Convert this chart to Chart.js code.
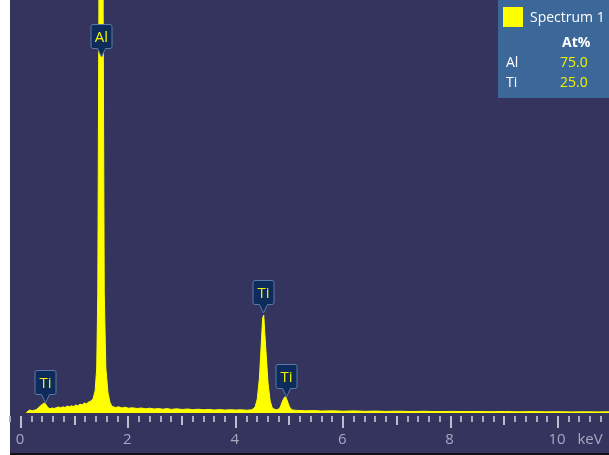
<!DOCTYPE html>
<html>
<head>
<meta charset="utf-8">
<script src="https://cdn.jsdelivr.net/npm/chart.js@4"></script>
<style>
  html, body { margin: 0; padding: 0; background: #ffffff; }
  canvas { display: block; }
</style>
</head>
<body>
<canvas id="myChart" width="609" height="455"></canvas>
<script>
// spectrum (energy in keV, counts)
const energies = [
  0.10, 0.13, 0.17, 0.21, 0.25, 0.29, 0.33, 0.37, 0.41, 0.44, 0.47, 0.50, 0.54, 0.58, 0.62, 0.66,
  0.70, 0.74, 0.78, 0.82, 0.86, 0.90, 0.94, 0.98, 1.02, 1.06, 1.10, 1.14, 1.18, 1.22, 1.26, 1.30,
  1.34, 1.38, 1.41, 1.43, 1.45, 1.46, 1.48, 1.50, 1.52, 1.53, 1.55, 1.58, 1.62, 1.66, 1.70, 1.76,
  1.82, 1.88, 1.94, 2.00, 2.08, 2.16, 2.24, 2.32, 2.40, 2.48, 2.56, 2.64, 2.72, 2.80, 2.90, 3.00,
  3.10, 3.20, 3.30, 3.40, 3.50, 3.60, 3.70, 3.80, 3.90, 4.00, 4.10, 4.20, 4.30, 4.36, 4.40, 4.44,
  4.47, 4.50, 4.52, 4.54, 4.57, 4.60, 4.64, 4.68, 4.72, 4.76, 4.80, 4.83, 4.87, 4.91, 4.93, 4.96,
  5.00, 5.05, 5.15, 5.30, 5.45, 5.60, 5.80, 6.00, 6.20, 6.40, 6.60, 6.80, 7.00, 7.25, 7.50, 7.75,
  8.00, 8.25, 8.50, 8.75, 9.00, 9.25, 9.50, 9.75, 10.00, 10.25, 10.50, 10.75, 10.95
];
const counts = [
  0, 20, 30, 22, 28, 35, 55, 75, 92, 100, 80, 55, 42, 50, 45, 55,
  60, 52, 62, 55, 70, 62, 72, 65, 80, 72, 88, 82, 100, 92, 110, 120,
  140, 220, 450, 1200, 4000, 12000, 30000, 30000, 12000, 4000, 1200, 450, 200, 100, 65, 55,
  62, 50, 58, 48, 52, 45, 50, 42, 48, 40, 45, 38, 44, 36, 42, 35,
  40, 33, 38, 32, 36, 30, 34, 29, 33, 30, 32, 28, 32, 60, 140, 350,
  650, 950, 980, 800, 550, 300, 120, 50, 38, 32, 40, 60, 120, 160, 160, 120,
  60, 30, 26, 22, 25, 20, 22, 18, 21, 17, 19, 16, 18, 15, 17, 14,
  16, 14, 15, 13, 15, 12, 14, 12, 13, 11, 12, 11, 12
];

// peak markers
const markerLabels = ["Ti", "Al", "Ti", "Ti"];
const markerEnergies = [0.45, 1.49, 4.51, 4.93];
const markerCounts = [100, 3560, 1000, 160];

// axis
const tickLabels = [0, 2, 4, 6, 8, 10];
const axisUnit = "keV";

// legend table
const spectrumName = "Spectrum 1";
const elements = ["Al", "Ti"];
const atomicPercent = ["75.0", "25.0"];

const NAVY = "#34345f";
const YELLOW = "#ffff00";

const ctx = document.getElementById("myChart");
new Chart(ctx, {
  type: "line",
  data: {
    datasets: [
      {
        label: spectrumName,
        data: energies.map((e, i) => ({ x: e, y: counts[i] })),
        borderColor: YELLOW,
        backgroundColor: YELLOW,
        borderWidth: 1,
        fill: "origin",
        pointRadius: 0,
        tension: 0,
      },
    ],
  },
  options: {
    responsive: false,
    animation: false,
    devicePixelRatio: 1,
    layout: { padding: { left: 10, right: 0, top: 0, bottom: 42 } },
    scales: {
      x: { type: "linear", min: -0.205, max: 10.95, display: false },
      y: { min: 0, max: 4130, display: false },
    },
    plugins: {
      legend: { display: false },
      tooltip: { enabled: false },
    },
  },
  plugins: [
    {
      id: "backgroundColor",
      beforeDraw(chart) {
        const c = chart.ctx;
        c.save();
        c.fillStyle = "#ffffff";
        c.fillRect(0, 0, chart.width, chart.height);
        c.fillStyle = NAVY;
        c.fillRect(10, 0, chart.width - 10, 453);
        c.fillStyle = "#111111";
        c.fillRect(10, 453, chart.width - 10, 2);
        c.restore();
      },
    },
    {
      id: "energyAxis",
      afterDraw(chart) {
        const c = chart.ctx;
        const xs = chart.scales.x;
        c.save();
        // ticks every 0.2 keV, longer at whole and even keV
        for (let k = -1; k <= 54; k++) {
          const px = Math.round(xs.getPixelForValue(k * 0.2));
          let len = 6;
          if (k % 10 === 0) len = 12;
          else if (k % 5 === 0) len = 9;
          c.fillStyle = k % 5 === 0 ? "#b9bfcf" : "#a7adc0";
          c.fillRect(px - 1, 416, 2, len);
        }
        c.fillStyle = "#a3abc0";
        c.font = '15px "Open Sans", sans-serif';
        c.textAlign = "center";
        c.textBaseline = "middle";
        tickLabels.forEach((v) => {
          c.fillText(String(v), xs.getPixelForValue(v) - 1, 440);
        });
        c.fillText(axisUnit, 590, 440);
        c.restore();
      },
    },
    {
      id: "peakMarkers",
      afterDatasetsDraw(chart) {
        const c = chart.ctx;
        const xs = chart.scales.x;
        const ys = chart.scales.y;
        c.save();
        markerLabels.forEach((lab, i) => {
          const cx = Math.round(xs.getPixelForValue(markerEnergies[i])) + 0.5;
          const tip = ys.getPixelForValue(markerCounts[i]);
          const bottom = Math.round(tip - 9) + 0.5;
          const top = bottom - 24;
          const w = 21;
          c.beginPath();
          c.moveTo(cx - w / 2 + 2, top);
          c.lineTo(cx + w / 2 - 2, top);
          c.quadraticCurveTo(cx + w / 2, top, cx + w / 2, top + 2);
          c.lineTo(cx + w / 2, bottom - 2);
          c.quadraticCurveTo(cx + w / 2, bottom, cx + w / 2 - 2, bottom);
          c.lineTo(cx + 4, bottom);
          c.lineTo(cx, tip);
          c.lineTo(cx - 4, bottom);
          c.lineTo(cx - w / 2 + 2, bottom);
          c.quadraticCurveTo(cx - w / 2, bottom, cx - w / 2, bottom - 2);
          c.lineTo(cx - w / 2, top + 2);
          c.quadraticCurveTo(cx - w / 2, top, cx - w / 2 + 2, top);
          c.closePath();
          c.fillStyle = "#0d2c5b";
          c.fill();
          c.strokeStyle = "#5a7ba5";
          c.lineWidth = 1;
          c.stroke();
          c.fillStyle = "#f2f200";
          c.font = '15px "Open Sans", sans-serif';
          c.textAlign = "center";
          c.textBaseline = "middle";
          c.fillText(lab, cx, (top + bottom) / 2 + 1);
        });
        c.restore();
      },
    },
    {
      id: "resultTable",
      afterDraw(chart) {
        const c = chart.ctx;
        c.save();
        c.fillStyle = "#3b6899";
        c.fillRect(498, 0, chart.width - 498, 98);
        c.fillStyle = YELLOW;
        c.fillRect(503, 7, 20, 20);
        c.textBaseline = "middle";
        c.textAlign = "left";
        c.fillStyle = "#ffffff";
        c.font = '14px "Open Sans", sans-serif';
        c.fillText(spectrumName, 530, 18);
        c.font = 'bold 14px "Open Sans", sans-serif';
        c.fillText("At%", 562, 43);
        elements.forEach((el, i) => {
          const y = 63 + i * 20;
          c.font = '14px "Open Sans", sans-serif';
          c.fillStyle = "#ffffff";
          c.fillText(el, 506, y);
          c.fillStyle = "#f2f200";
          c.fillText(atomicPercent[i], 560, y);
        });
        c.restore();
      },
    },
  ],
});
</script>
</body>
</html>
